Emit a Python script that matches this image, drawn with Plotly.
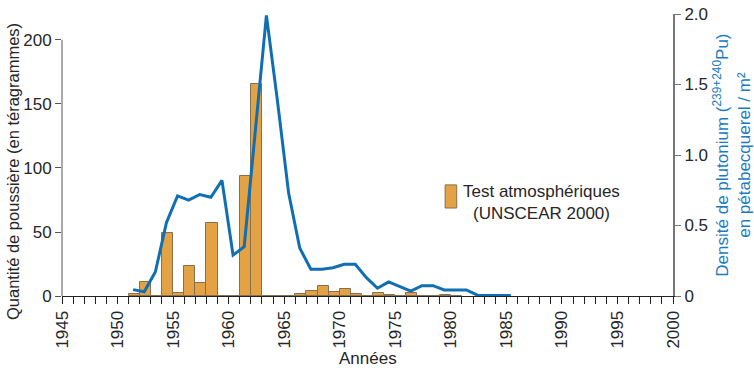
import plotly.graph_objects as go

# --- data ---
bar_years = list(range(1951, 1981))
dust_tg = [1.8, 10.7, 0, 49, 2.6, 23.5, 10, 57, 0, 0, 94, 165.5, 0.3, 0.3, 0.3,
           1.2, 4.2, 7.5, 3, 5.5, 1.5, 0.3, 2.5, 0.5, 0, 2.3, 0, 0, 0.5, 0.3]

pu_years = list(range(1951, 1986))
pu_density = [0.045, 0.03, 0.17, 0.52, 0.71, 0.68, 0.72, 0.70, 0.82, 0.29, 0.35,
              1.16, 1.99, 1.38, 0.73, 0.34, 0.19, 0.19, 0.20, 0.225, 0.225, 0.13,
              0.055, 0.10, 0.066, 0.035, 0.073, 0.073, 0.043, 0.043, 0.043,
              0.006, 0.003, 0.003, 0.003]

x_ticks = list(range(1945, 2001, 5))
left_ticks = [0, 50, 100, 150, 200]
right_ticks = [0, 0.5, 1.0, 1.5, 2.0]
right_ticktext = ["0", "0.5", "1.0", "1.5", "2.0"]

FONT = "Liberation Sans, Arial, sans-serif"
BLUE_LINE = "#0f6fb2"
BLUE_TEXT = "#1a7cbf"
ORANGE = "#e3a243"
TXT = "#262626"

fig = go.Figure()
fig.add_trace(go.Bar(
    x=bar_years, y=dust_tg, offset=0, width=1,
    marker=dict(color=ORANGE, line=dict(color="#86704f", width=1)),
    yaxis="y", showlegend=False,
))
fig.add_trace(go.Scatter(
    x=[y + 0.4 for y in pu_years], y=pu_density, mode="lines",
    line=dict(color=BLUE_LINE, width=3), yaxis="y2", showlegend=False,
))

fig.update_layout(
    width=754, height=374,
    margin=dict(l=62, r=81, t=14, b=78, autoexpand=False),
    plot_bgcolor="white", paper_bgcolor="white",
    font=dict(family=FONT, size=17, color=TXT),
    bargap=0,
    xaxis=dict(
        range=[1945, 2000], tickmode="array", tickvals=x_ticks,
        tickangle=-90, ticks="outside", ticklen=7, tickcolor="#222",
        showline=True, linecolor="#222", linewidth=1,
        showgrid=False, zeroline=False, automargin=False,
        tickfont=dict(size=17, color=TXT),
        minor=dict(dtick=1, ticks="outside", ticklen=7, tickcolor="#222", showgrid=False),
    ),
    yaxis=dict(
        range=[0, 220.3], tickmode="array", tickvals=left_ticks,
        ticks="outside", ticklen=6, tickcolor="#555",
        showline=False, showgrid=False, zeroline=False, automargin=False,
        tickfont=dict(size=17, color=TXT),
    ),
    yaxis2=dict(
        overlaying="y", side="right", range=[0, 2.0],
        tickmode="array", tickvals=right_ticks, ticktext=right_ticktext,
        ticks="outside", ticklen=6, tickcolor="#777",
        showline=True, linecolor="#777", linewidth=2,
        showgrid=False, zeroline=False, automargin=False,
        tickfont=dict(size=17, color=TXT),
    ),
    shapes=[
        dict(type="line", xref="paper", yref="y", x0=0, x1=0, y0=0, y1=200,
             line=dict(color="#555", width=1)),
        dict(type="rect", xref="paper", yref="paper", x0=0.627, x1=0.646,
             y0=0.312, y1=0.394, fillcolor=ORANGE, line=dict(color="#86704f", width=1)),
    ],
    annotations=[
        dict(text="Quantité de poussière (en téragrammes)", textangle=-90,
             xref="paper", yref="paper", x=-0.080, y=0.44, showarrow=False,
             xanchor="center", yanchor="middle", font=dict(size=16.5, color=TXT)),
        dict(text="Densité de plutonium (<sup>239+240</sup>Pu)<br>en pétabecquerel / m²",
             textangle=-90, xref="paper", yref="paper", x=1.096, y=0.5,
             showarrow=False, xanchor="center", yanchor="middle",
             font=dict(size=17, color=BLUE_TEXT)),
        dict(text="Années", xref="paper", yref="paper", x=0.501, y=-0.222,
             showarrow=False, xanchor="center", yanchor="middle",
             font=dict(size=17, color=TXT)),
        dict(text="Test atmosphériques", xref="paper", yref="paper", x=0.785, y=0.372,
             showarrow=False, xanchor="center", yanchor="middle",
             font=dict(size=17, color=TXT)),
        dict(text="(UNSCEAR 2000)", xref="paper", yref="paper", x=0.785, y=0.291,
             showarrow=False, xanchor="center", yanchor="middle",
             font=dict(size=17, color=TXT)),
    ],
)

fig.write_html("out.html", config={"displayModeBar": False},
               post_script="document.body.style.margin='0';")
